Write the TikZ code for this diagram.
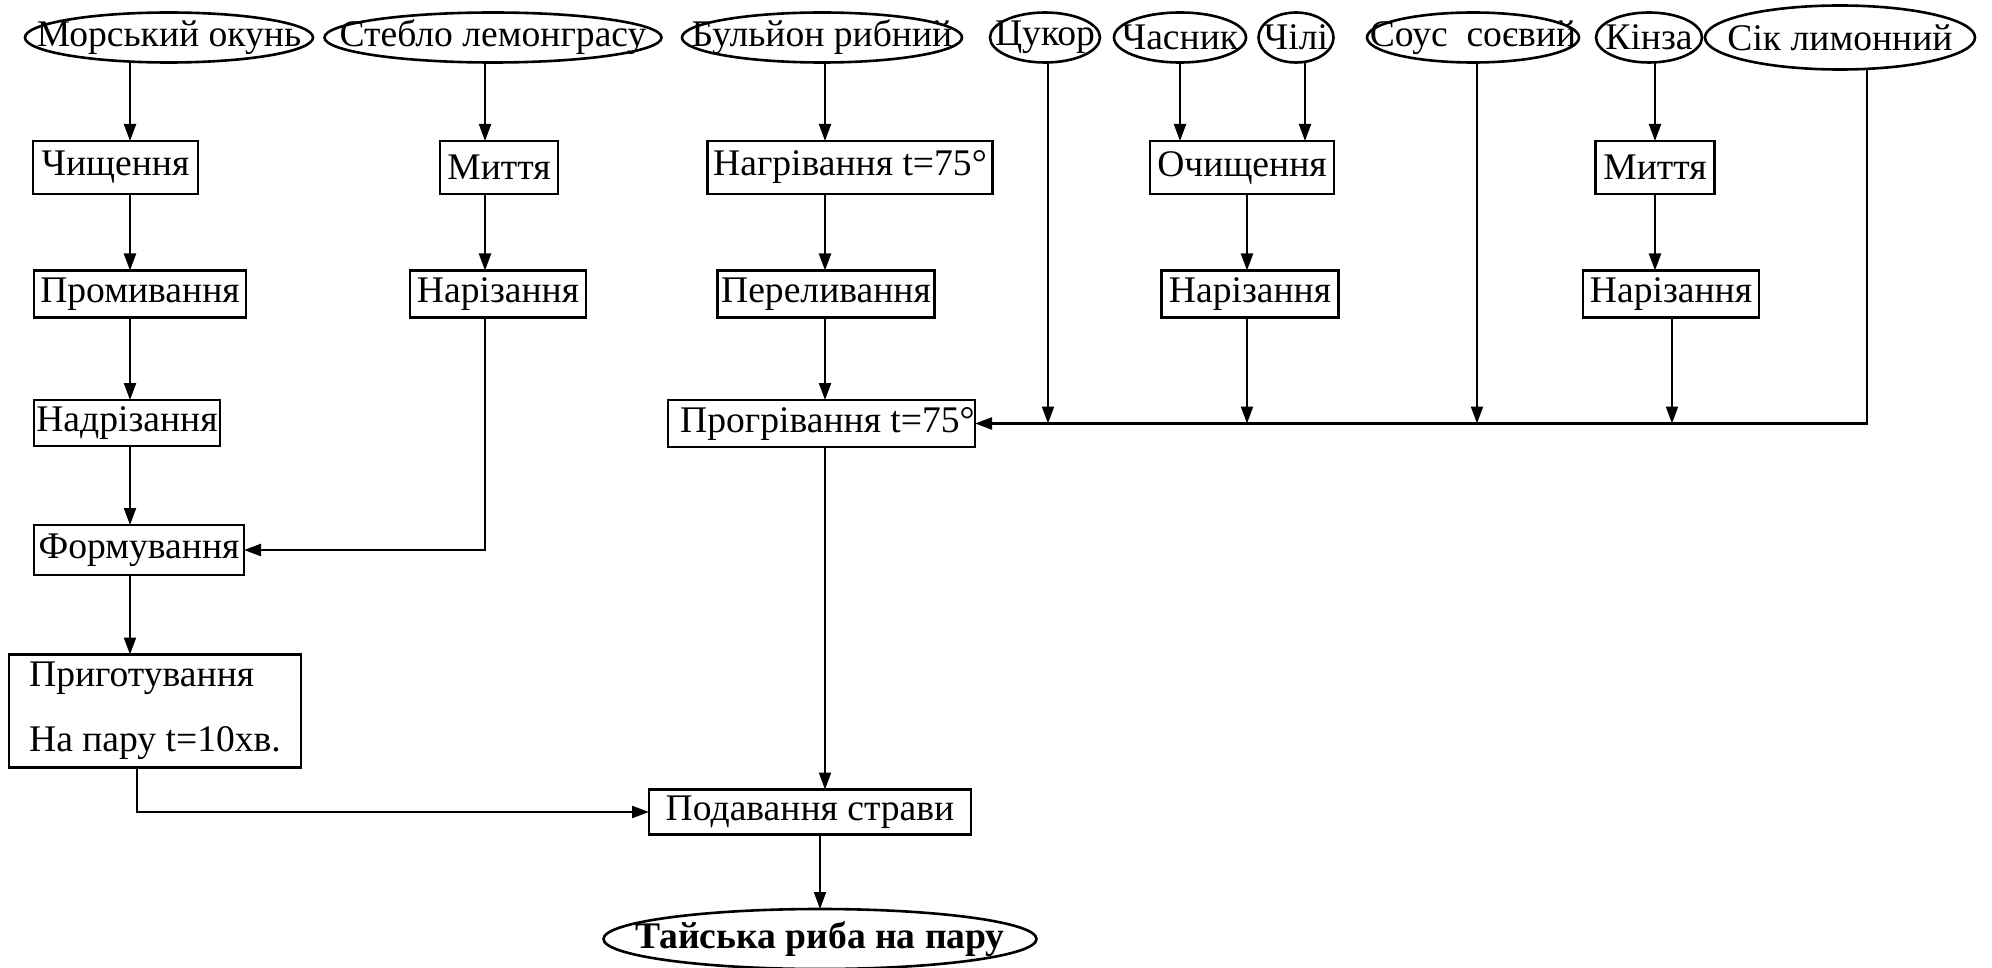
\documentclass[tikz,border=0pt]{standalone}
\usepackage{fontspec}
\setmainfont{Liberation Serif}
\usetikzlibrary{shapes.geometric,arrows.meta}
\newcommand{\mkz}[1]{\makebox[0pt][c]{#1}}
\begin{document}
\begin{tikzpicture}[x=0.5pt,y=-0.5pt,
  every node/.style={font=\fontsize{18.8}{22.5}\selectfont, inner sep=0pt, outer sep=0pt},
  ov/.style={draw, ellipse, line width=1.3pt, minimum height=25pt},
  bx/.style={draw, rectangle, line width=1.4pt},
  arr/.style={-{Triangle[length=8.5pt,width=6pt]}, line width=1.1pt}]
\useasboundingbox (0,0) rectangle (1992,968);
% top row
\node[ov, minimum width=144pt]   (e1) at (169,37.5)  {\mkz{Морський окунь}};
\node[ov, minimum width=168.5pt] (e2) at (493,37.5)  {\mkz{Стебло лемонграсу}};
\node[ov, minimum width=140pt]   (e3) at (822,37.5)  {\mkz{Бульйон рибний}};
\node[ov, minimum width=55pt]    (e4) at (1045,37.5) {\mkz{Цукор}};
\node[ov, minimum width=66pt]    (e5) at (1180,37.5) {\mkz{Часник}};
\node[ov, minimum width=37.5pt]  (e6) at (1296,37.5) {\mkz{Чілі}};
\node[ov, minimum width=106pt]   (e7) at (1473,37.5) {\mkz{Соус\ \ соєвий}};
\node[ov, minimum width=53pt]    (e8) at (1649,37.5) {\mkz{Кінза}};
\node[ov, minimum width=135pt, minimum height=32pt] (e9) at (1840,37.5) {\mkz{Сік лимонний}};
% row 2
\node[bx, minimum width=82.5pt, minimum height=26.5pt] (chysch) at (115.5,167.5) {Чищення};
\node[bx, minimum width=59pt,   minimum height=26.5pt] (myt1)   at (499,167.5)   {Миття};
\node[bx, minimum width=142.5pt,minimum height=26.5pt] (nagr)   at (850,167.5)   {Нагрівання t=75°};
\node[bx, minimum width=92pt,   minimum height=26.5pt] (ochy)   at (1242,167.5)  {Очищення};
\node[bx, minimum width=59.5pt, minimum height=26.5pt] (myt2)   at (1655,167.5)  {Миття};
% row 3
\node[bx, minimum width=106pt,  minimum height=23.5pt] (promyv) at (140,294)  {Промивання};
\node[bx, minimum width=88pt,   minimum height=23.5pt] (nariz1) at (498,294)  {Нарізання};
\node[bx, minimum width=108.5pt,minimum height=23.5pt] (perel)  at (826,294)  {Переливання};
\node[bx, minimum width=88.5pt, minimum height=23.5pt] (nariz2) at (1250,294) {Нарізання};
\node[bx, minimum width=88pt,   minimum height=23.5pt] (nariz3) at (1671,294) {Нарізання};
% row 4
\node[bx, minimum width=93pt,   minimum height=23pt]   (nadr)  at (127,423)   {Надрізання};
\node[bx, minimum width=153.5pt,minimum height=23.5pt] (progr) at (821.5,423.5) {\hspace{6pt}Прогрівання t=75°};
% row 5
\node[bx, minimum width=105pt,  minimum height=25pt]   (form)  at (139,550)   {Формування};
% row 6
\node[bx, minimum width=146pt,  minimum height=56.5pt, align=left] (pryg) at (155,711)
  {Приготування\\[10pt]На пару t=10хв.};
% row 7
\node[bx, minimum width=161pt,  minimum height=22.5pt] (podav) at (810,812) {Подавання страви};
% final
\node[ov, minimum width=216.5pt, minimum height=30pt, font=\fontsize{18.8}{22.5}\selectfont\bfseries] (fin) at (820,939) {\mkz{Тайська риба на пару}};
% columns
\coordinate (kA) at (130,0);
\coordinate (kB) at (485,0);
\coordinate (kC) at (825,0);
\coordinate (kD) at (1048,0);
\coordinate (kE) at (1180,0);
\coordinate (kF) at (1305,0);
\coordinate (kG) at (1247,0);
\coordinate (kH) at (1477,0);
\coordinate (kI) at (1655,0);
\coordinate (kJ) at (1672,0);
\coordinate (kK) at (1867,0);
\coordinate (kL) at (137,0);
\coordinate (kM) at (820,0);
% connectors
\draw[arr] (kA |- e1.south) -- (kA |- chysch.north);
\draw[arr] (kA |- chysch.south) -- (kA |- promyv.north);
\draw[arr] (kA |- promyv.south) -- (kA |- nadr.north);
\draw[arr] (kA |- nadr.south) -- (kA |- form.north);
\draw[arr] (kA |- form.south) -- (kA |- pryg.north);
\draw[arr] (kB |- e2.south) -- (kB |- myt1.north);
\draw[arr] (kB |- myt1.south) -- (kB |- nariz1.north);
\draw[arr] (kB |- nariz1.south) |- (form.east);
\draw[arr] (kC |- e3.south) -- (kC |- nagr.north);
\draw[arr] (kC |- nagr.south) -- (kC |- perel.north);
\draw[arr] (kC |- perel.south) -- (kC |- progr.north);
\draw[arr] (kC |- progr.south) -- (kC |- podav.north);
\draw[arr] (kL |- pryg.south) |- (podav.west);
\draw[arr] (kM |- podav.south) -- (kM |- fin.north);
\draw[arr] (kD |- e4.south) -- (kD |- progr.east);
\draw[arr] (kE |- e5.south) -- (kE |- ochy.north);
\draw[arr] (kF |- e6.south) -- (kF |- ochy.north);
\draw[arr] (kG |- ochy.south) -- (kG |- nariz2.north);
\draw[arr] (kG |- nariz2.south) -- (kG |- progr.east);
\draw[arr] (kH |- e7.south) -- (kH |- progr.east);
\draw[arr] (kI |- e8.south) -- (kI |- myt2.north);
\draw[arr] (kI |- myt2.south) -- (kI |- nariz3.north);
\draw[arr] (kJ |- nariz3.south) -- (kJ |- progr.east);
\draw[arr] (kK |- e9.south) |- (progr.east);
\end{tikzpicture}
\end{document}
